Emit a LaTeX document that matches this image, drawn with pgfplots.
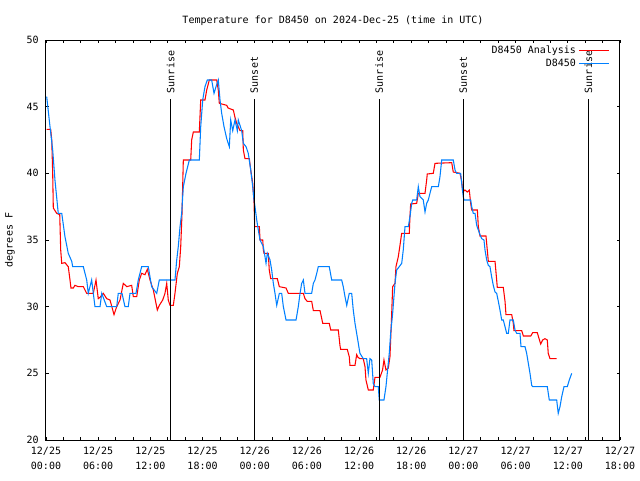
\documentclass[border=0pt]{standalone}
\usepackage{fontspec}
\setmainfont{DejaVu Sans Mono}
\usepackage{pgfplots}
\pgfplotsset{compat=1.18}
\definecolor{obsblue}{RGB}{0,128,255}
\begin{document}
\begin{tikzpicture}[x=1pt,y=1pt]
\begin{axis}[
  at={(0,0)}, anchor=south west,
  scale only axis, width=430.5pt, height=300pt,
  xmin=0, xmax=66, ymin=20, ymax=50,
  xtick={0,6,...,66},
  xticklabels={{12/25\\00:00},{12/25\\06:00},{12/25\\12:00},{12/25\\18:00},{12/26\\00:00},{12/26\\06:00},{12/26\\12:00},{12/26\\18:00},{12/27\\00:00},{12/27\\06:00},{12/27\\12:00},{12/27\\18:00}},
  minor xtick={2,4,8,10,14,16,20,22,26,28,32,34,38,40,44,46,50,52,56,58,62,64},
  ytick={20,25,...,50},
  tick pos=both, tick align=inside,
  major tick length=2.5pt, minor tick length=2.5pt,
  tick style={black, line width=0.6pt},
  axis line style={line width=0.75pt},
  xticklabel style={align=center, font=\fontsize{7.5}{11}\selectfont, yshift=-2pt},
  yticklabel style={font=\fontsize{7.5}{9}\selectfont, xshift=-2pt},
  /pgf/number format/assume math mode=true,
  ylabel={degrees F},
  ylabel style={font=\fontsize{7.5}{9}\selectfont, at={(rel axis cs:0,0.5)}, anchor=center, yshift=27pt},
  title={Temperature for D8450 on 2024-Dec-25 (time in UTC)},
  title style={font=\fontsize{7.5}{9}\selectfont, at={(rel axis cs:0.5,1)}, anchor=south, yshift=1.5pt},
  legend style={at={(rel axis cs:1,1)}, anchor=north east, xshift=-7pt, yshift=-1pt, draw=none, fill=none,
    font=\fontsize{7.5}{9}\selectfont, row sep=-1.5pt, inner sep=1pt},
  legend cell align=right,
  legend plot pos=right,
  legend image code/.code={\draw[#1] (0pt,0pt) -- (22pt,0pt);},
]
\addplot[red, line width=0.8pt] coordinates {
(0.08,43.3) (0.54,43.3) (0.66,42.5) (0.77,40) (0.84,37.4) (1.23,37) (1.58,36.9) (1.69,34.25) (1.81,33.25)
(2.18,33.3) (2.56,33) (2.76,32) (2.87,31.4) (3.14,31.4) (3.33,31.6) (3.71,31.5) (4.29,31.5) (4.68,31)
(5.44,31) (5.75,32) (6.01,30.6) (6.21,30.7) (6.59,31) (6.98,30.6) (7.36,30.5) (7.82,29.4) (8.13,30)
(8.51,30.5) (8.89,31.75) (9.28,31.5) (9.85,31.6) (10.04,30.75) (10.43,30.75) (10.73,32) (11.00,32.5)
(11.38,32.4) (11.65,32.8) (11.96,32) (12.34,31.25) (12.80,29.75) (13.03,30.1) (13.42,30.5) (13.68,31)
(13.88,31.75) (14.06,30.5) (14.26,30.1) (14.64,30.1) (14.83,31) (15.10,32.5) (15.33,33) (15.49,34.5)
(15.64,37) (15.79,41) (16.64,41) (16.75,42.5) (16.94,43.1) (17.63,43.1) (17.79,45.5) (18.28,45.5)
(18.48,46.25) (18.78,47) (19.63,47) (19.81,46.25) (19.93,45.25) (20.78,45.1) (20.93,44.9) (21.54,44.75)
(21.73,44.2) (21.93,43.75) (22.31,43.2) (22.62,43.2) (22.69,41.75) (22.88,41.1) (23.38,41.1) (23.54,40.25)
(23.77,39.25) (23.92,37.8) (24.00,36) (24.53,36) (24.61,35) (24.92,35) (24.99,34.25) (25.07,34)
(25.56,34) (25.67,32.75) (25.84,32.1) (26.60,32.1) (26.83,31.5) (27.60,31.4) (27.86,31) (29.59,31)
(29.78,30.6) (30.04,30.4) (30.55,30.4) (30.74,29.7) (31.51,29.7) (31.82,28.75) (32.57,28.75) (32.74,28.25)
(33.61,28.25) (33.80,27.1) (33.88,26.8) (34.64,26.8) (34.87,26.25) (34.95,25.6) (35.53,25.6) (35.72,26.4)
(35.87,26.2) (36.10,26.1) (36.48,26.1) (36.68,25.5) (36.79,24.5) (37.06,23.75) (37.63,23.75) (37.83,24.7)
(38.40,24.7) (38.70,25.25) (38.86,26) (39.09,25.25) (39.36,25.4) (39.55,26.25) (39.63,27.5) (39.75,29.5)
(39.86,31.5) (40.13,31.75) (40.24,33) (40.51,33.75) (40.70,34.6) (40.90,35.5) (41.77,35.5) (41.85,36.75)
(41.93,37.7) (42.62,37.75) (42.81,38.5) (43.58,38.5) (43.77,39.5) (43.84,39.95) (44.53,40) (44.73,40.75)
(46.65,40.8) (46.83,40.1) (47.60,40) (47.80,39.4) (47.91,38.6) (48.17,38.75) (48.44,38.6) (48.67,38.75)
(48.83,37.75) (48.95,37.25) (49.60,37.25) (49.71,36) (49.90,35.3) (50.59,35.3) (50.74,34.25) (50.86,33.4)
(51.63,33.4) (51.82,32) (51.89,31.45) (52.58,31.45) (52.78,30.4) (52.89,29.4) (53.55,29.4) (53.73,28.75)
(53.81,28.2) (54.70,28.2) (54.89,27.8) (55.74,27.8) (55.96,28.05) (56.49,28.05) (56.65,27.7) (56.88,27.2)
(57.11,27.5) (57.37,27.6) (57.64,27.5) (57.75,26.5) (57.95,26.1) (58.72,26.1)
};
\addlegendentry{D8450 Analysis}
\addplot[obsblue, line width=0.8pt] coordinates {
(0.08,45.75) (0.46,43.5) (0.77,41.75) (1.03,39.5) (1.41,37) (1.81,37) (2.18,35.25) (2.56,34) (2.96,33.4)
(3.07,33) (4.29,33) (4.68,32) (4.86,31) (5.25,32) (5.63,30) (6.21,30) (6.41,31) (6.98,30) (8.13,30)
(8.31,31) (8.74,31) (9.08,30) (9.46,30) (9.66,31) (10.35,31) (10.61,32) (11.00,33) (11.76,33) (12.15,31.5)
(12.73,31) (13.03,32) (14.83,32) (15.03,33.5) (15.21,34.5) (15.41,36) (15.60,37) (15.79,39) (16.10,40)
(16.48,41) (17.63,41) (17.79,43.5) (18.02,45.5) (18.28,46.5) (18.55,47) (19.05,47) (19.32,46) (19.55,46.5)
(19.81,47) (20.01,45.5) (20.20,44.5) (20.47,43.5) (20.78,42.6) (21.08,42) (21.24,44) (21.47,43.2) (21.73,44)
(22.00,43.2) (22.11,44) (22.50,43.2) (22.69,42.25) (23.00,42) (23.26,41.5) (23.54,40.25) (23.77,39)
(23.92,38) (24.03,37.5) (24.23,36.5) (24.41,35.75) (24.61,35) (24.99,34.5) (25.18,33.75) (25.30,33.25)
(25.45,34) (25.76,33.5) (25.95,32.75) (26.14,31.75) (26.33,31) (26.53,30.1) (26.83,31) (27.10,31) (27.29,30)
(27.60,29) (28.75,29) (29.01,30) (29.21,31) (29.40,31.75) (29.59,32) (29.78,31) (30.55,31) (30.74,31.75)
(30.93,32) (31.13,32.5) (31.31,33) (32.57,33) (32.85,32) (34.00,32) (34.18,31.5) (34.38,30.75) (34.58,30.1)
(34.87,31) (35.15,31) (35.33,29.75) (35.53,28.75) (35.72,28) (35.91,27.25) (36.10,26.5) (36.48,26.1)
(36.87,26.1) (37.06,25) (37.25,26.1) (37.45,26) (37.63,24.25) (37.83,24) (38.21,24) (38.32,23) (38.86,23)
(39.09,24) (39.24,25) (39.47,26.5) (39.63,28) (39.86,29.5) (40.13,31.75) (40.32,32.75) (40.62,33) (40.90,33.25)
(41.08,34.25) (41.28,36) (41.66,36) (41.85,36.75) (42.05,37.75) (42.16,38) (42.62,38) (42.81,39) (43.00,38.25)
(43.38,38) (43.58,37.1) (43.77,37.75) (43.96,38) (44.15,38.5) (44.35,39) (45.11,39) (45.30,39.75) (45.50,41)
(46.83,41) (47.03,40.25) (47.22,40) (47.68,40) (47.80,39.25) (47.98,38.25) (48.06,38) (48.83,38) (48.95,37.5)
(49.13,37) (49.33,37) (49.52,36.1) (49.71,35.75) (49.90,35.4) (50.10,35.1) (50.36,35) (50.48,34.25)
(50.67,33.5) (50.86,33.1) (51.05,33) (51.24,32.25) (51.43,31.6) (51.63,31.1) (51.82,31) (52.01,30.4)
(52.20,29.75) (52.40,29) (52.58,29) (52.78,28.5) (52.97,28) (53.16,28) (53.35,29) (53.73,29) (53.93,28.25)
(54.12,28) (54.50,28) (54.62,27) (55.08,27) (55.27,26.5) (55.46,25.75) (55.65,25) (55.85,24.1) (55.96,24)
(57.64,24) (57.87,23) (58.72,23) (58.90,22) (59.10,22.5) (59.30,23.25) (59.56,24) (59.94,24) (60.17,24.5)
(60.45,25)
};
\addlegendentry{D8450}
\addplot[black, line width=0.75pt, forget plot] coordinates {(14.34,20) (14.34,45.55)};
\addplot[black, line width=0.75pt, forget plot] coordinates {(23.95,20) (23.95,45.55)};
\addplot[black, line width=0.75pt, forget plot] coordinates {(38.32,20) (38.32,45.55)};
\addplot[black, line width=0.75pt, forget plot] coordinates {(47.98,20) (47.98,45.55)};
\addplot[black, line width=0.75pt, forget plot] coordinates {(62.36,20) (62.36,45.55)};
\node[rotate=90, anchor=west, inner sep=0pt, font=\fontsize{7.5}{9}\selectfont] at (axis cs:14.34,46.0) {Sunrise};
\node[rotate=90, anchor=west, inner sep=0pt, font=\fontsize{7.5}{9}\selectfont] at (axis cs:23.95,46.0) {Sunset};
\node[rotate=90, anchor=west, inner sep=0pt, font=\fontsize{7.5}{9}\selectfont] at (axis cs:38.32,46.0) {Sunrise};
\node[rotate=90, anchor=west, inner sep=0pt, font=\fontsize{7.5}{9}\selectfont] at (axis cs:47.98,46.0) {Sunset};
\node[rotate=90, anchor=west, inner sep=0pt, font=\fontsize{7.5}{9}\selectfont] at (axis cs:62.36,46.0) {Sunrise};
\end{axis}
\pgfresetboundingbox
\path[use as bounding box] (-34.5pt,-30pt) rectangle (445.5pt,330pt);
\end{tikzpicture}
\end{document}
